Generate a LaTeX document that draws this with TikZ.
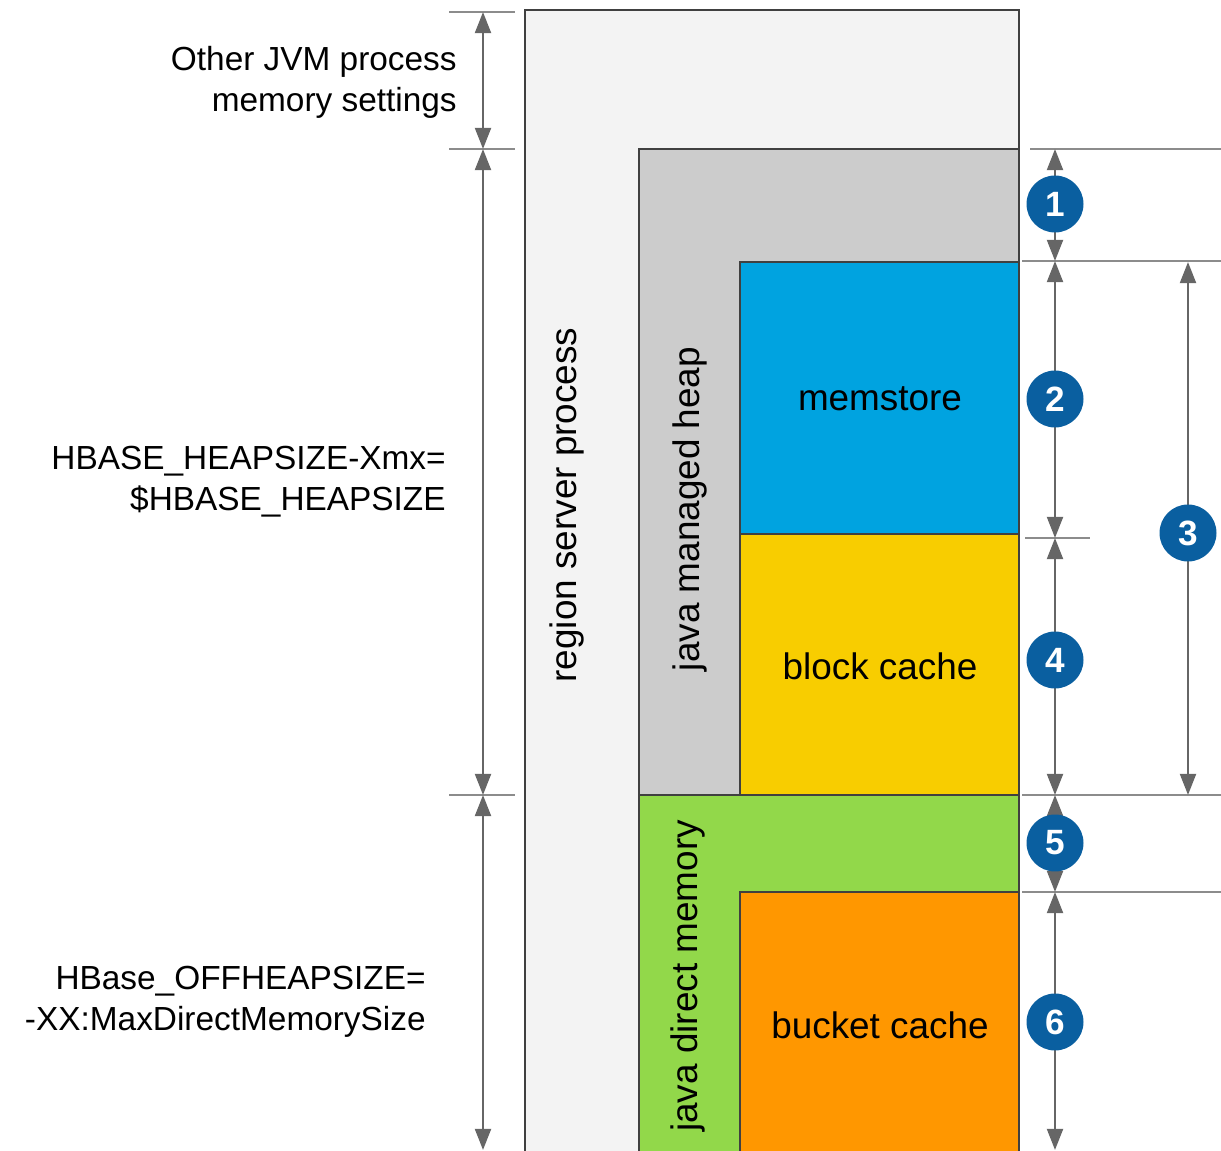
\documentclass[tikz,border=0pt]{standalone}
\usepackage{fontspec}
\setmainfont{Liberation Sans}
\usetikzlibrary{arrows.meta}
\definecolor{procgray}{HTML}{F3F3F3}
\definecolor{heapgray}{HTML}{CCCCCC}
\definecolor{memblue}{HTML}{00A3E0}
\definecolor{cacheyellow}{HTML}{F8CD00}
\definecolor{directgreen}{HTML}{92D84A}
\definecolor{bucketorange}{HTML}{FF9700}
\definecolor{badgeblue}{HTML}{0A5FA0}
\definecolor{dimgray}{HTML}{666666}
\tikzset{
    memblock/.style={draw=black!75, line width=1.3pt},
    tickline/.style={draw=black!45, line width=1.3pt},
    dimarrow/.style={dimgray, line width=1.5pt, {Triangle[length=12pt,width=9pt]}-{Triangle[length=12pt,width=9pt]}},
    badge/.style={circle, fill=badgeblue, text=white, font=\bfseries\fontsize{20}{20}\selectfont, minimum size=1.14cm, inner sep=0pt},
    sidelabel/.style={align=right, anchor=east, inner sep=0pt, font=\fontsize{19}{23.3}\selectfont},
    blocklabel/.style={font=\fontsize{21}{25}\selectfont}
}
\begin{document}
\begin{tikzpicture}[x=0.02cm, y=-0.02cm]
        \useasboundingbox (0, 0) rectangle (1221, 1151);
        \clip (0, 0) rectangle (1221, 1151);

        \draw[memblock, fill=procgray] (525, 10) rectangle (1019, 1170);
        \draw[memblock, fill=heapgray] (639, 149) rectangle (1019, 795);
        \draw[memblock, fill=memblue] (740, 262) rectangle (1019, 534);
        \draw[memblock, fill=cacheyellow] (740, 534) rectangle (1019, 795);
        \draw[memblock, fill=directgreen] (639, 795) rectangle (1019, 1170);
        \draw[memblock, fill=bucketorange] (740, 892) rectangle (1019, 1170);

        \coordinate (l0) at (483, 12);
        \coordinate (l1) at (483, 149);
        \coordinate (l2) at (483, 795);
        \coordinate (l3) at (483, 1150);
        \coordinate (r0) at (1055, 149);
        \coordinate (r1) at (1055, 261);
        \coordinate (r2) at (1055, 538);
        \coordinate (r3) at (1055, 795);
        \coordinate (r4) at (1055, 892);
        \coordinate (r5) at (1055, 1150);
        \coordinate (s0) at (1188, 262);
        \coordinate (s1) at (1188, 795);

        \draw[tickline] (449, 12) -- (515, 12);
        \draw[tickline] (449, 149) -- (515, 149);
        \draw[tickline] (449, 795) -- (515, 795);
        \draw[tickline] (1030, 149) -- (1221, 149);
        \draw[tickline] (1022, 261) -- (1221, 261);
        \draw[tickline] (1025, 538) -- (1090, 538);
        \draw[tickline] (1022, 795) -- (1221, 795);
        \draw[tickline] (1022, 892) -- (1221, 892);

        \draw[dimarrow] (l0) -- (l1);
        \draw[dimarrow] (l1) -- (l2);
        \draw[dimarrow] (l2) -- (l3);
        \draw[dimarrow] (r0) -- (r1);
        \draw[dimarrow] (r1) -- (r2);
        \draw[dimarrow] (r2) -- (r3);
        \draw[dimarrow] (r3) -- (r4);
        \draw[dimarrow] (r4) -- (r5);
        \draw[dimarrow] (s0) -- (s1);

        \node[badge] (b1) at (1055, 204) {1};
        \node[badge] (b2) at (1055, 399) {2};
        \node[badge] (b3) at (1188, 533) {3};
        \node[badge] (b4) at (1055, 660) {4};
        \node[badge] (b5) at (1055, 843) {5};
        \node[badge] (b6) at (1055, 1022) {6};

        \node[sidelabel] (jvmlabel) at (457, 82) {Other JVM process\\memory settings};
        \node[sidelabel] (heaplabel) at (446, 482) {HBASE\_HEAPSIZE-Xmx=\\\$HBASE\_HEAPSIZE};
        \node[sidelabel] (offheaplabel) at (426, 1002) {HBase\_OFFHEAPSIZE=\\-XX:MaxDirectMemorySize};

        \node[blocklabel, rotate=90] (rslabel) at (567, 505) {region server process};
        \node[blocklabel, rotate=90] (heapname) at (690, 509) {java managed heap};
        \node[blocklabel, rotate=90] (directname) at (688, 976) {java direct memory};
        \node[blocklabel] (memstore) at (880, 399) {memstore};
        \node[blocklabel] (blockcache) at (880, 666) {block cache};
        \node[blocklabel] (bucketcache) at (880, 1025) {bucket cache};

    \end{tikzpicture}
\end{document}
